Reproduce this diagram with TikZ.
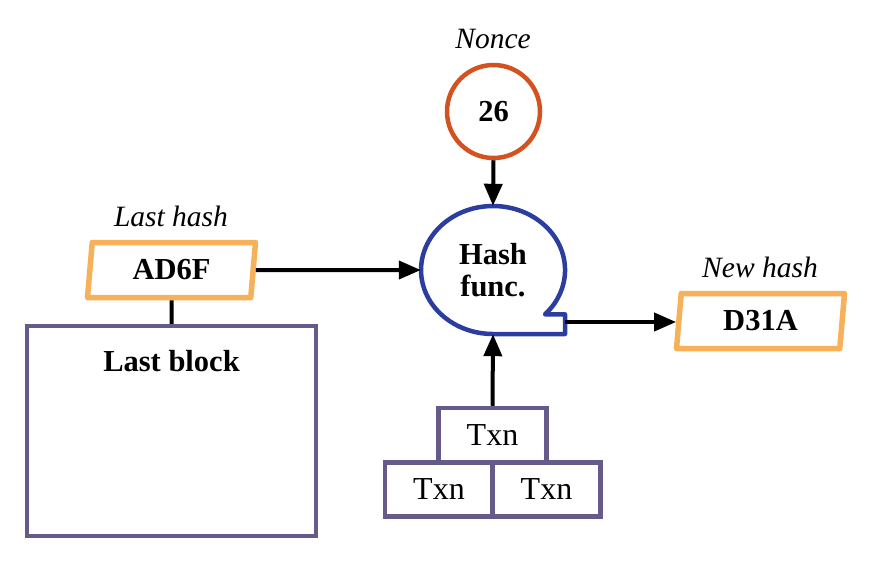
\documentclass[tikz,border=0pt]{standalone}
\usepackage{fontspec}
\setmainfont{Liberation Serif}
\usetikzlibrary{shapes.geometric,arrows.meta}
\definecolor{noncecol}{HTML}{D4521F}
\definecolor{hashcol}{HTML}{F7B158}
\definecolor{funccol}{HTML}{2B3D9E}
\definecolor{blockcol}{HTML}{655A8A}
\tikzset{
  big/.style={font=\fontsize{32pt}{34pt}\selectfont},
  bigb/.style={font=\fontsize{30.5pt}{32pt}\selectfont\bfseries},
  bigi/.style={font=\fontsize{29.5pt}{32pt}\selectfont\itshape},
  hashbox/.style={draw=hashcol, line width=5.5pt, line join=round, trapezium, trapezium left angle=77, trapezium right angle=103, trapezium stretches body=true, minimum width=168pt, minimum height=55pt, inner sep=0pt, bigb},
  txnbox/.style={draw=blockcol, line width=4.5pt, minimum width=108pt, minimum height=54pt, inner sep=0pt, big},
  conn/.style={draw=black, line width=4pt, -{Triangle[length=22pt,width=18pt]}},
  plain/.style={draw=black, line width=4pt}
}
\begin{document}
\begin{tikzpicture}[x=1pt,y=-1pt]
\useasboundingbox (0,0) rectangle (880,573);
% nonce
\node[bigi] (noncelbl) at (493,39) {Nonce};
\node[draw=noncecol, line width=4.5pt, circle, minimum size=93pt, inner sep=0pt, bigb] (nonce) at (493.5,111.5) {26};
% hash function shape
\draw[draw=funccol, line width=4.5pt, line join=round] (545,314.3) arc[start angle=43.8, end angle=-270, x radius=72, y radius=64] -- (565,334) -- (565,314.3) -- cycle;
\node[ellipse, minimum width=144pt, minimum height=128pt, inner sep=0pt, align=center, bigb] (hash) at (493,270) {Hash\\func.};
\coordinate (tab) at (565,322);
% last hash
\node[bigi] (lasthashlbl) at (171,216) {Last hash};
\node[hashbox] (lasthash) at (171.5,270) {AD6F};
% last block
\node[draw=blockcol, line width=4.5pt, minimum width=289pt, minimum height=210pt, inner sep=0pt] (lastblock) at (171.5,431) {};
\node[bigb] (lbtext) at (171.5,361) {Last block};
% new hash
\node[bigi] (newhashlbl) at (760,267) {New hash};
\node[hashbox] (newhash) at (760.5,321) {D31A};
% transactions
\node[txnbox] (txntop) at (492.5,435) {Txn};
\node[txnbox] (txnl) at (439,489.5) {Txn};
\node[txnbox] (txnr) at (546.5,489.5) {Txn};
% connectors
\draw[conn] (nonce.south) -- (hash.north);
\draw[conn] (lasthash.east) -- (hash.west);
\draw[plain] (lasthash.south) -- (lastblock.north);
\draw[conn] (tab) -- (newhash.west |- tab);
\draw[conn] (txntop.north) -- (hash.south);
\end{tikzpicture}
\end{document}
